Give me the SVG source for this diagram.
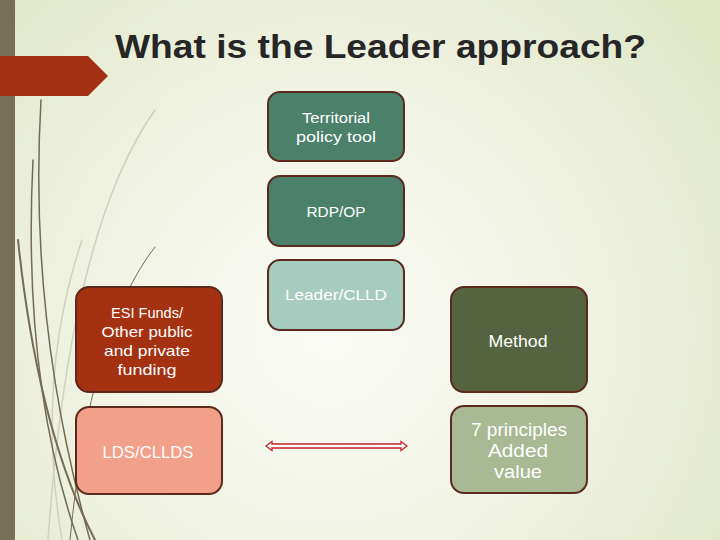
<svg xmlns="http://www.w3.org/2000/svg" width="720" height="540" viewBox="0 0 720 540">
<defs>
<radialGradient id="bg" cx="330" cy="330" r="480" gradientUnits="userSpaceOnUse">
<stop offset="0" stop-color="#fbfbf7"/>
<stop offset="0.5" stop-color="#f1f3e4"/>
<stop offset="1" stop-color="#dfe7c6"/>
</radialGradient>
<style>
.box{stroke:#5b2a1c;stroke-width:2}
.t{font-family:"Liberation Sans",Arial,sans-serif;fill:#ffffff;text-anchor:middle}
.g{fill:none;stroke:#736b52;stroke-linecap:round}
.l{fill:none;stroke:#cfd0c0;stroke-linecap:round}
</style>
</defs>
<rect width="720" height="540" fill="url(#bg)"/>
<!-- decorations -->
<g id="decor">
<rect x="0" y="0" width="15" height="540" fill="#776f56"/>
<path d="M0,56 H88 L108,76 L88,96 H0 Z" fill="#a33015"/>
<path class="l" stroke-width="1.5" d="M155,110 Q70,230 48,540"/>
<path class="l" stroke-width="1.5" d="M82,240 Q35,380 62,540"/>
<path class="g" stroke-width="1.5" d="M41,100 Q28,320 90,540"/>
<path class="g" stroke-width="1.5" d="M33,160 Q22,380 78,540"/>
<path class="g" stroke-width="2" d="M18,240 Q38,430 95,540"/>
<path class="g" stroke-width="1" d="M155,247 Q90,330 70,540"/>
</g>
<text x="115" y="58" font-family="'Liberation Sans',Arial,sans-serif" font-weight="bold" font-size="34" fill="#262626" textLength="531" lengthAdjust="spacingAndGlyphs">What is the Leader approach?</text>
<g id="connectors">
<path d="M266,446 L272,441.5 L272,444 L401,444 L401,441.5 L407,446 L401,450.5 L401,448 L272,448 L272,450.5 Z" fill="#fbfbf6" stroke="#c2262c" stroke-width="1.3" stroke-linejoin="miter"/>
</g>
<g id="territorial">
<rect class="box" x="268" y="92" width="136" height="69" rx="12" fill="#4b806b"/>
<text class="t" x="336" y="123" font-size="14" textLength="68" lengthAdjust="spacingAndGlyphs">Territorial</text>
<text class="t" x="336" y="142" font-size="14" textLength="80" lengthAdjust="spacingAndGlyphs">policy tool</text>
</g>
<g id="rdp">
<rect class="box" x="268" y="176" width="136" height="70" rx="12" fill="#4b806b"/>
<text class="t" x="336" y="217" font-size="15" textLength="59" lengthAdjust="spacingAndGlyphs">RDP/OP</text>
</g>
<g id="leader">
<rect class="box" x="268" y="260" width="136" height="70" rx="12" fill="#a6cbbf"/>
<text class="t" x="336" y="300" font-size="15.5" textLength="102" lengthAdjust="spacingAndGlyphs">Leader/CLLD</text>
</g>
<g id="esi">
<rect class="box" x="76" y="287" width="146" height="105" rx="13" fill="#a33112"/>
<text class="t" x="147" y="318" font-size="15" textLength="72" lengthAdjust="spacingAndGlyphs">ESI Funds/</text>
<text class="t" x="147" y="337" font-size="15" textLength="91" lengthAdjust="spacingAndGlyphs">Other public</text>
<text class="t" x="147" y="356" font-size="15" textLength="86" lengthAdjust="spacingAndGlyphs">and private</text>
<text class="t" x="147" y="375" font-size="15" textLength="59" lengthAdjust="spacingAndGlyphs">funding</text>
</g>
<g id="lds">
<rect class="box" x="76" y="407" width="146" height="87" rx="13" fill="#f2a089"/>
<text class="t" x="148" y="458" font-size="17" textLength="91" lengthAdjust="spacingAndGlyphs">LDS/CLLDS</text>
</g>
<g id="method">
<rect class="box" x="451" y="287" width="136" height="105" rx="13" fill="#566341"/>
<text class="t" x="518" y="347" font-size="16" textLength="59" lengthAdjust="spacingAndGlyphs">Method</text>
</g>
<g id="principles">
<rect class="box" x="451" y="406" width="136" height="87" rx="13" fill="#a9b994"/>
<text class="t" x="519" y="436" font-size="18" textLength="96" lengthAdjust="spacingAndGlyphs">7 principles</text>
<text class="t" x="518" y="457" font-size="18" textLength="60" lengthAdjust="spacingAndGlyphs">Added</text>
<text class="t" x="518" y="478" font-size="18" textLength="48" lengthAdjust="spacingAndGlyphs">value</text>
</g>
</svg>
